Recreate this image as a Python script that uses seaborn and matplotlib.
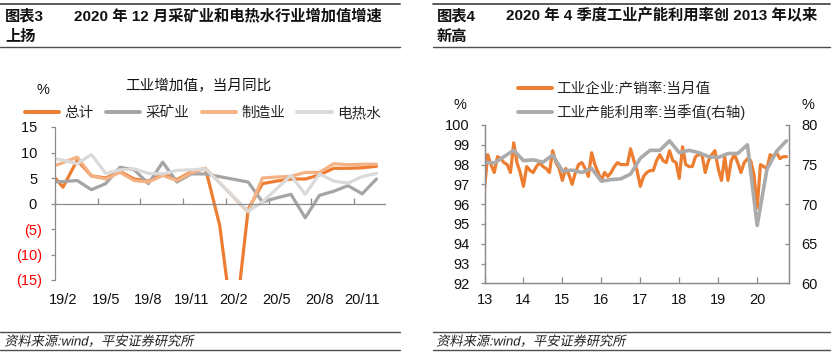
import numpy as np
import pandas as pd
import matplotlib
matplotlib.use("Agg")
import matplotlib.pyplot as plt
import seaborn as sns
from matplotlib.lines import Line2D
from matplotlib.patheffects import AbstractPathEffect
from matplotlib.transforms import Affine2D

sns.set_theme(style="white")
plt.rcParams["font.family"] = ["Liberation Sans", "Noto Sans CJK SC", "DejaVu Sans"]
plt.rcParams["axes.unicode_minus"] = False

# ---------------- Left chart data (monthly, 19/1 .. 20/12) ----------------
left_months = ["19/1", "19/2", "19/3", "19/4", "19/5", "19/6", "19/7", "19/8",
               "19/9", "19/10", "19/11", "19/12", "20/1", "20/2", "20/3", "20/4",
               "20/5", "20/6", "20/7", "20/8", "20/9", "20/10", "20/11", "20/12"]
total = [6.5, 3.2, 8.5, 5.4, 5.0, 6.3, 4.8, 4.4, 5.8, 4.7, 6.2, 6.9,
         -4.3, -25.9, -1.1, 3.9, 4.4, 4.8, 4.8, 5.6, 6.9, 6.9, 7.0, 7.3]
mining = [4.2, 4.3, 4.5, 2.7, 3.9, 7.1, 6.6, 3.9, 8.1, 4.2, 5.8, 5.8,
          np.nan, np.nan, 4.2, 0.3, 1.1, 1.8, -2.8, 1.6, 2.4, 3.5, 1.9, 4.8]
manufacturing = [7.0, 8.0, 9.1, 5.4, 4.8, 6.1, 4.5, 4.2, 5.5, 4.5, 6.0, 6.9,
                 np.nan, np.nan, -1.7, 5.0, 5.2, 5.3, 6.1, 6.1, 7.8, 7.6, 7.7, 7.7]
utilities = [9.0, 8.5, 7.8, 9.6, 5.9, 6.6, 6.8, 5.9, 5.8, 6.5, 6.6, 6.8,
             np.nan, np.nan, -1.5, 0.3, 2.9, 5.5, 1.8, 5.8, 4.4, 4.0, 5.3, 5.9]
left_names = ["总计", "采矿业", "制造业", "电热水"]
left_tick_labels = ["19/2", "19/5", "19/8", "19/11", "20/2", "20/5", "20/8", "20/11"]
left_yticks = [-15, -10, -5, 0, 5, 10, 15]

# ---------------- Right chart data ----------------
right_months = list(pd.period_range("2013-03", "2020-12", freq="M").strftime("%Y-%m"))
sales_ratio = [96.8, 98.5, 98.0, 97.6, 98.4, 98.3, 98.1, 98.0, 97.6, 99.1,
               98.1, 97.6, 96.9, 97.9, 97.7, 97.6, 97.9, 98.1, 97.9, 97.8,
               97.6, 98.7, 98.1, 97.8, 97.2, 97.8, 97.5, 97.0, 97.6, 98.0,
               98.1, 97.8, 97.4, 98.6, 98.0, 97.6, 97.2, 97.6, 97.4, 97.6,
               97.9, 98.1, 98.0, 98.0, 98.0, 98.8, 98.2, 97.7, 96.9, 97.4,
               97.6, 97.7, 97.7, 98.2, 98.5, 98.2, 98.1, 98.7, 98.2, 98.1,
               97.3, 98.9, 98.0, 97.9, 97.9, 98.4, 98.5, 98.5, 97.6, 98.2,
               98.5, 98.7, 97.8, 97.2, 98.4, 97.2, 98.2, 98.5, 98.1, 97.6,
               98.1, 98.3, 98.2, 97.5, 95.8, 98.0, 97.9, 97.8, 98.5, 98.4,
               98.6, 98.3, 98.4, 98.4]
right_quarters = list(pd.period_range("2013Q1", "2020Q4", freq="Q").strftime("%YQ%q"))
capacity_util = [75.3, 75.2, 76.0, 76.8, 75.5, 75.6, 75.3, 76.2,
                 74.2, 74.3, 74.0, 74.5, 72.9, 73.1, 73.2, 73.8,
                 75.8, 76.8, 76.8, 78.0, 76.5, 76.8, 76.5, 76.0,
                 75.9, 76.4, 76.4, 77.5, 67.3, 74.4, 76.7, 78.0]
right_names = ["工业企业:产销率:当月值", "工业产能利用率:当季值(右轴)"]
right_tick_labels = ["13", "14", "15", "16", "17", "18", "19", "20"]
right_left_ticks = [92, 93, 94, 95, 96, 97, 98, 99, 100]
right_right_ticks = [60, 65, 70, 75, 80]

# ---------------- Figure ----------------
W, H = 834, 356
fig = plt.figure(figsize=(W / 100, H / 100), dpi=100)
fig.patch.set_facecolor("white")


def fx(px):
    return px / W


def fy(py):
    return 1 - py / H


def hline(x0, x1, y, lw=1.0, color="#595959"):
    fig.add_artist(Line2D([fx(x0), fx(x1)], [fy(y), fy(y)], transform=fig.transFigure,
                          color=color, lw=lw))


class Slant(AbstractPathEffect):
    """Fake italic: shear glyph paths about a horizontal baseline (display px)."""

    def __init__(self, y0, deg=12):
        super().__init__()
        self.y0 = y0
        self.deg = deg

    def draw_path(self, renderer, gc, tpath, affine, rgbFace=None):
        shear = Affine2D().translate(0, -self.y0).skew_deg(self.deg, 0).translate(0, self.y0)
        renderer.draw_path(gc, tpath, affine + shear, rgbFace)


SPINE = "#8c8c8c"
ORANGE = "#ED7D31"
GRAY = "#A5A5A5"
LORANGE = "#F4B183"
LGRAY = "#DADADA"

# ---- headers / footers ----
for x0, x1 in [(0, 400), (433, 830)]:
    hline(x0, x1, 3.5, lw=1.3, color="#4d4d4d")
    hline(x0, x1, 46.5, lw=1.0, color="#4d4d4d")
    hline(x0, x1, 332, lw=1.0, color="#4d4d4d")
    hline(x0, x1, 350, lw=1.0, color="#4d4d4d")

hdr = dict(fontsize=11, fontweight="bold", va="center", ha="left", color="#111111")
fig.text(fx(5), fy(16), "图表3", **hdr)
fig.text(fx(74), fy(16), "2020 年 12 月采矿业和电热水行业增加值增速", **hdr)
fig.text(fx(5), fy(37), "上扬", **hdr)
fig.text(fx(437), fy(16), "图表4", **hdr)
fig.text(fx(506), fy(16), "2020 年 4 季度工业产能利用率创 2013 年以来", **hdr)
fig.text(fx(437), fy(37), "新高", **hdr)

src = dict(fontsize=9.5, va="center", ha="left", color="#222222")
for xs in (5, 437):
    fig.text(fx(xs), fy(342), "资料来源:wind，平安证券研究所",
             path_effects=[Slant(H - 342)], **src)

# ================= Left chart =================
axL = fig.add_axes([fx(55), fy(280), fx(385) - fx(55), fy(127) - fy(280)])
idx = np.arange(len(left_months))
handles = []
for vals, c, name in zip([total, mining, manufacturing, utilities],
                         [ORANGE, GRAY, LORANGE, LGRAY], left_names):
    v = np.array(vals, dtype=float)
    m = ~np.isnan(v)
    sns.lineplot(x=idx[m], y=v[m], ax=axL, color=c, linewidth=2.3, legend=False)
    handles.append(axL.lines[-1])

axL.set_xlim(0.44, 23.6)
axL.set_ylim(-15, 15)
axL.set_xlabel("")
axL.set_ylabel("")
axL.set_facecolor("white")
for s in ["top", "right"]:
    axL.spines[s].set_visible(False)
axL.spines["left"].set_color(SPINE)
axL.spines["left"].set_linewidth(0.9)
axL.spines["bottom"].set_position(("data", 0))
axL.spines["bottom"].set_color(SPINE)
axL.spines["bottom"].set_linewidth(0.9)

# tick marks on the zero line (between label positions)
axL.set_xticks([0.44 + 3 * k for k in range(8)])
axL.set_xticklabels([])
axL.tick_params(axis="x", which="major", direction="in", length=4, color=SPINE, width=0.9,
                bottom=True)
# labels along the bottom
sec = axL.secondary_xaxis("bottom")
label_pos = [left_months.index(lbl) for lbl in left_tick_labels]
sec.set_xticks(label_pos)
sec.set_xticklabels(left_tick_labels)
sec.tick_params(length=0, pad=9.5, labelsize=10.5, labelcolor="#111111")
sec.spines["bottom"].set_visible(False)

ylabels = [f"({abs(t)})" if t < 0 else f"{t} " for t in left_yticks]
axL.set_yticks(left_yticks)
axL.set_yticklabels(ylabels)
axL.tick_params(axis="y", direction="out", length=3, color=SPINE, width=0.9, pad=6.5,
                labelsize=10.5, left=True)
for t, lab in zip(left_yticks, axL.get_yticklabels()):
    lab.set_color("#FF0000" if t < 0 else "#111111")

fig.text(fx(198.5), fy(86), "工业增加值，当月同比", fontsize=10.5, ha="center", va="center",
         color="#111111")
fig.text(fx(42.5), fy(90), "%", fontsize=10.5, ha="center", va="center", color="#111111")

legL = fig.legend(handles, left_names, loc="center left", bbox_to_anchor=(fx(25), fy(113)),
                  ncol=4, frameon=False, fontsize=10.5, handlelength=2.35, handletextpad=0.35,
                  columnspacing=0.85, borderpad=0, borderaxespad=0)
for ln in legL.get_lines():
    ln.set_linewidth(2.8)

# ================= Right chart =================
axR = fig.add_axes([fx(484.5), fy(283.3), fx(789) - fx(484.5), fy(125) - fy(283.3)])
m_idx = np.arange(len(right_months))
sns.lineplot(x=m_idx, y=sales_ratio, ax=axR, color=ORANGE, linewidth=2.3, legend=False)
h1 = axR.lines[-1]
axR2 = axR.twinx()
q_idx = np.arange(len(right_quarters)) * 3
sns.lineplot(x=q_idx, y=capacity_util, ax=axR2, color="#ABABAB", linewidth=2.6, legend=False)
h2 = axR2.lines[-1]

axR.set_xlim(0, 93.8)
axR.set_ylim(92, 100)
axR2.set_ylim(60, 80)
for a in (axR, axR2):
    a.set_xlabel("")
    a.set_ylabel("")
    a.spines["top"].set_visible(False)
    for s in ["left", "right", "bottom"]:
        a.spines[s].set_color(SPINE)
        a.spines[s].set_linewidth(0.9)
axR.set_facecolor("white")

axR.set_xticks([12 * k for k in range(len(right_tick_labels))])
axR.set_xticklabels(right_tick_labels)
axR.tick_params(axis="x", direction="in", length=4, color=SPINE, width=0.9, pad=7,
                labelsize=10.5, bottom=True, labelcolor="#111111")
axR.set_yticks(right_left_ticks)
axR.tick_params(axis="y", direction="out", length=3, color=SPINE, width=0.9, pad=7.5,
                labelsize=10.5, left=True, labelcolor="#111111")
axR2.set_yticks(right_right_ticks)
axR2.tick_params(axis="y", direction="in", length=3, color=SPINE, width=0.9, pad=9,
                 labelsize=10.5, right=True, labelcolor="#111111")

fig.text(fx(460), fy(105), "%", fontsize=10.5, ha="center", va="center", color="#111111")
fig.text(fx(808), fy(105), "%", fontsize=10.5, ha="center", va="center", color="#111111")

legR = fig.legend([h1, h2], right_names, loc="center left",
                  bbox_to_anchor=(fx(518), fy(101)), ncol=1, frameon=False, fontsize=10.5,
                  handlelength=2.3, handletextpad=0.3, labelspacing=0.55, borderpad=0,
                  borderaxespad=0)
for ln in legR.get_lines():
    ln.set_linewidth(2.8)

fig.savefig("out.png", dpi=100, facecolor="white")
